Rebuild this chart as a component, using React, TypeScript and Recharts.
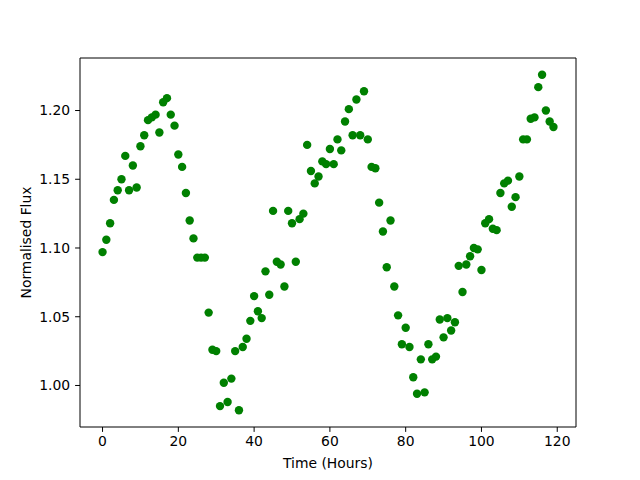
import { ScatterChart, Scatter, XAxis, YAxis, ReferenceArea, Label } from 'recharts';

const hours = [
  0, 1, 2, 3, 4, 5, 6, 7, 8, 9, 10, 11, 12, 13, 14, 15, 16, 17, 18, 19,
  20, 21, 22, 23, 24, 25, 26, 27, 28, 29, 30, 31, 32, 33, 34, 35, 36, 37, 38, 39,
  40, 41, 42, 43, 44, 45, 46, 47, 48, 49, 50, 51, 52, 53, 54, 55, 56, 57, 58, 59,
  60, 61, 62, 63, 64, 65, 66, 67, 68, 69, 70, 71, 72, 73, 74, 75, 76, 77, 78, 79,
  80, 81, 82, 83, 84, 85, 86, 87, 88, 89, 90, 91, 92, 93, 94, 95, 96, 97, 98, 99,
  100, 101, 102, 103, 104, 105, 106, 107, 108, 109, 110, 111, 112, 113, 114, 115, 116, 117, 118, 119,
];

const flux = [
  1.097, 1.106, 1.118, 1.135, 1.142, 1.150, 1.167, 1.142, 1.160, 1.144,
  1.174, 1.182, 1.193, 1.195, 1.197, 1.184, 1.206, 1.209, 1.197, 1.189,
  1.168, 1.159, 1.140, 1.120, 1.107, 1.093, 1.093, 1.093, 1.053, 1.026,
  1.025, 0.985, 1.002, 0.988, 1.005, 1.025, 0.982, 1.028, 1.034, 1.047,
  1.065, 1.054, 1.049, 1.083, 1.066, 1.127, 1.090, 1.088, 1.072, 1.127,
  1.118, 1.090, 1.121, 1.125, 1.175, 1.156, 1.147, 1.152, 1.163, 1.161,
  1.172, 1.161, 1.179, 1.171, 1.192, 1.201, 1.182, 1.208, 1.182, 1.214,
  1.179, 1.159, 1.158, 1.133, 1.112, 1.086, 1.120, 1.072, 1.051, 1.030,
  1.042, 1.028, 1.006, 0.994, 1.019, 0.995, 1.030, 1.019, 1.021, 1.048,
  1.035, 1.049, 1.040, 1.046, 1.087, 1.068, 1.088, 1.094, 1.100, 1.099,
  1.084, 1.118, 1.121, 1.114, 1.113, 1.140, 1.147, 1.149, 1.130, 1.137,
  1.152, 1.179, 1.179, 1.194, 1.195, 1.217, 1.226, 1.200, 1.192, 1.188,
];

const xTicks = [0, 20, 40, 60, 80, 100, 120];
const yTicks = [1.0, 1.05, 1.1, 1.15, 1.2];

const points = hours.map((h, i) => ({ x: h, y: flux[i] }));

const X_MIN = -5.95;
const X_MAX = 124.95;
const Y_MIN = 0.9698;
const Y_MAX = 1.2382;

const FONT = 'DejaVu Sans';
const tickStyle = { fontFamily: FONT, fontSize: 13.9, fill: '#000' };

const Dot = (props: any) => <circle cx={props.cx} cy={props.cy} r={4.2} fill="#008000" />;

export default function App() {
  return (
    <div style={{ position: 'absolute', left: 0, top: 0, width: 640, height: 480, background: '#fff' }}>
      <ScatterChart width={640} height={480} margin={{ top: 58, right: 64, bottom: 0, left: 0 }}>
        <XAxis
          type="number"
          dataKey="x"
          domain={[X_MIN, X_MAX]}
          ticks={xTicks}
          allowDataOverflow
          height={53}
          axisLine={false}
          tickSize={4.9}
          tickMargin={4.5}
          tickLine={{ stroke: '#000', strokeWidth: 1 }}
          tick={tickStyle}
        >
          <Label
            content={({ viewBox }: any) => (
              <text
                x={viewBox.x + viewBox.width / 2}
                y={viewBox.y + 41}
                textAnchor="middle"
                fontFamily={FONT}
                fontSize={13.9}
                fill="#000"
              >
                Time (Hours)
              </text>
            )}
          />
        </XAxis>
        <YAxis
          type="number"
          dataKey="y"
          domain={[Y_MIN, Y_MAX]}
          ticks={yTicks}
          allowDataOverflow
          width={80}
          axisLine={false}
          tickSize={4.9}
          tickMargin={4.9}
          tickLine={{ stroke: '#000', strokeWidth: 1 }}
          tick={tickStyle}
          tickFormatter={(v: number) => v.toFixed(2)}
        >
          <Label
            content={({ viewBox }: any) => {
              const cx = viewBox.x + 31;
              const cy = viewBox.y + viewBox.height / 2;
              return (
                <text
                  x={cx}
                  y={cy}
                  transform={`rotate(-90, ${cx}, ${cy})`}
                  textAnchor="middle"
                  fontFamily={FONT}
                  fontSize={13.9}
                  fill="#000"
                >
                  Normalised Flux
                </text>
              );
            }}
          />
        </YAxis>
        <ReferenceArea x1={X_MIN} x2={X_MAX} y1={Y_MIN} y2={Y_MAX} fill="none" stroke="#000" strokeWidth={1} fillOpacity={0} />
        <Scatter data={points} shape={Dot} isAnimationActive={false} />
      </ScatterChart>
    </div>
  );
}
